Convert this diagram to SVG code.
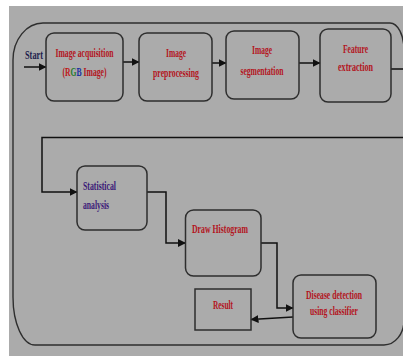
<svg xmlns="http://www.w3.org/2000/svg" width="403" height="356" viewBox="0 0 403 356">
<style>
.box{fill:none;stroke:#2e2e2e;stroke-width:1.5}
.t{font-family:"Liberation Serif","Times New Roman",serif;font-weight:bold;font-size:12px;fill:#b3141d}
.c{text-anchor:middle}
.con{fill:none;stroke:#111;stroke-width:1.5}
</style>
<defs>
<marker id="ah" viewBox="0 0 8 8" refX="7.5" refY="4" markerWidth="8" markerHeight="8" markerUnits="userSpaceOnUse" orient="auto">
<path d="M0,0 L8,4 L0,8 Z" fill="#111"/>
</marker>
</defs>
<rect x="0" y="0" width="403" height="356" fill="#ffffff"/>
<rect x="9" y="6" width="394" height="350" fill="#ababab"/>
<path d="M43,23 H390 A14,27 0 0 1 404,50 V320 A20,25 0 0 1 384,345 H35 A22,48 0 0 1 13,297 V60 A30,37 0 0 1 43,23 Z" fill="none" stroke="#2e2e2e" stroke-width="1.4"/>
<g id="connectors">
<path class="con" d="M24,67 H46" marker-end="url(#ah)"/>
<path class="con" d="M123,62 H139" marker-end="url(#ah)"/>
<path class="con" d="M212,63 H226" marker-end="url(#ah)"/>
<path class="con" d="M299,63 H320" marker-end="url(#ah)"/>
<path class="con" d="M391,69 H412 V137.5 H42 V192 H77" marker-end="url(#ah)"/>
<path class="con" d="M147,192 H166 V243 H185.5" marker-end="url(#ah)"/>
<path class="con" d="M261,243 H277 V308 H293" marker-end="url(#ah)"/>
<path class="con" d="M293,317 L251,319.5" marker-end="url(#ah)"/>
</g>
<g id="start">
<text class="t" x="25" y="59" textLength="18" lengthAdjust="spacingAndGlyphs" style="fill:#1d1d4d">Start</text>
</g>
<g id="acquisition">
<rect class="box" x="46" y="33" width="77" height="68" rx="8"/>
<text class="t c" x="84.5" y="57" textLength="58" lengthAdjust="spacingAndGlyphs">Image acquisition</text>
<text class="t c" transform="translate(84.5,76) scale(0.64,1)" x="0" y="0">(<tspan style="fill:#c01818">R</tspan><tspan style="fill:#1f7a2a">G</tspan><tspan style="fill:#1c2fa0">B</tspan> Image)</text>
</g>
<g id="preprocessing">
<rect class="box" x="139" y="33" width="73" height="68" rx="8"/>
<text class="t c" x="176" y="57" textLength="20" lengthAdjust="spacingAndGlyphs">Image</text>
<text class="t c" x="176" y="77" textLength="46" lengthAdjust="spacingAndGlyphs">preprocessing</text>
</g>
<g id="segmentation">
<rect class="box" x="226" y="31" width="73" height="68" rx="8"/>
<text class="t c" x="262" y="54" textLength="20" lengthAdjust="spacingAndGlyphs">Image</text>
<text class="t c" x="262" y="75" textLength="43" lengthAdjust="spacingAndGlyphs">segmentation</text>
</g>
<g id="feature">
<rect class="box" x="320" y="29" width="71" height="73" rx="8"/>
<text class="t c" x="355.5" y="53" textLength="25" lengthAdjust="spacingAndGlyphs">Feature</text>
<text class="t c" x="355.5" y="71" textLength="35" lengthAdjust="spacingAndGlyphs">extraction</text>
</g>
<g id="statistical">
<rect class="box" x="77" y="166" width="70" height="64" rx="8"/>
<text class="t" x="83" y="190" textLength="33" lengthAdjust="spacingAndGlyphs" style="fill:#3b1a78">Statistical</text>
<text class="t" x="83" y="209" textLength="26" lengthAdjust="spacingAndGlyphs" style="fill:#3b1a78">analysis</text>
</g>
<g id="histogram">
<rect class="box" x="185.5" y="210" width="75.5" height="66" rx="8"/>
<text class="t" x="192" y="233" textLength="56" lengthAdjust="spacingAndGlyphs">Draw Histogram</text>
</g>
<g id="disease">
<rect class="box" x="293" y="275" width="83" height="63" rx="8"/>
<text class="t c" x="334" y="299" textLength="56" lengthAdjust="spacingAndGlyphs">Disease detection</text>
<text class="t c" x="334" y="315" textLength="48" lengthAdjust="spacingAndGlyphs">using classifier</text>
</g>
<g id="result">
<rect class="box" x="195" y="289" width="56" height="41"/>
<text class="t c" x="223" y="309" textLength="20" lengthAdjust="spacingAndGlyphs">Result</text>
</g>
</svg>
